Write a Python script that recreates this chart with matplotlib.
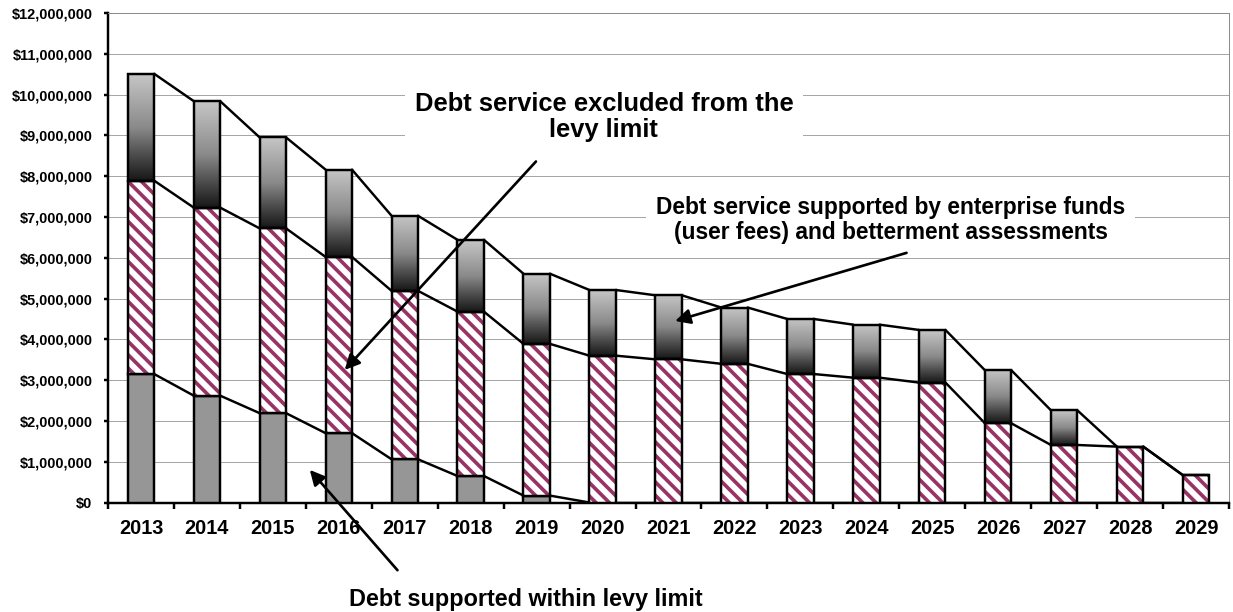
import numpy as np
import matplotlib
matplotlib.use("Agg")
import matplotlib.pyplot as plt
from matplotlib.ticker import MultipleLocator, FuncFormatter
from matplotlib.colors import LinearSegmentedColormap

# ---- data (dollars) ----
years = [str(y) for y in range(2013, 2030)]
within_levy = [3150000, 2620000, 2190000, 1700000, 1060000, 650000, 170000,
               0, 0, 0, 0, 0, 0, 0, 0, 0, 0]
excluded = [4740000, 4610000, 4530000, 4320000, 4130000, 4030000, 3720000,
            3600000, 3510000, 3400000, 3150000, 3060000, 2940000, 1940000,
            1410000, 1370000, 670000]
enterprise = [2620000, 2610000, 2230000, 2140000, 1840000, 1760000, 1720000,
              1610000, 1570000, 1380000, 1350000, 1300000, 1290000, 1300000,
              850000, 0, 0]

DPI = 80
W, H = 1233, 612
plt.rcParams["font.family"] = ["Liberation Sans", "DejaVu Sans"]
plt.rcParams["font.weight"] = "bold"
plt.rcParams["hatch.linewidth"] = 3.3

fig = plt.figure(figsize=(W / DPI, H / DPI), dpi=DPI)
ax = fig.add_axes([108 / W, 1 - 502.5 / H, (1229 - 108) / W, (502.5 - 13) / H])

x = np.arange(len(years))
width = 0.40
lw = 2.2
lvl1 = np.array(within_levy, dtype=float)
lvl2 = lvl1 + np.array(excluded, dtype=float)
lvl3 = lvl2 + np.array(enterprise, dtype=float)

# bottom segment: solid gray
ax.bar(x, within_levy, width, color="#969696", edgecolor="black", lw=lw, zorder=3)

# middle segment: maroon diagonal stripes
ax.bar(x, excluded, width, bottom=lvl1, color="white", edgecolor="#993366",
       hatch="\\\\", lw=0, zorder=3)
ax.bar(x, excluded, width, bottom=lvl1, fill=False, edgecolor="black", lw=lw, zorder=4)

# top segment: vertical gray gradient, dark at the base
grad_cmap = LinearSegmentedColormap.from_list(
    "g", [(0.0, "#161616"), (0.25, "#4e4e4e"), (0.5, "#8a8a8a"), (1.0, "#c6c6c6")])
grad = np.linspace(0, 1, 256).reshape(-1, 1)
top_bars = ax.bar(x, enterprise, width, bottom=lvl2, fill=False, edgecolor="black",
                  lw=lw, zorder=4)
for bar in top_bars:
    if bar.get_height() > 0:
        x0 = bar.get_x()
        ax.imshow(grad, extent=(x0, x0 + bar.get_width(), bar.get_y(),
                                bar.get_y() + bar.get_height()),
                  origin="lower", aspect="auto", cmap=grad_cmap, zorder=3,
                  interpolation="bicubic")

# series lines joining the segment tops of neighbouring bars
for lvl in (lvl1, lvl2, lvl3):
    for i in range(len(x) - 1):
        ax.plot([x[i] + width / 2, x[i + 1] - width / 2], [lvl[i], lvl[i + 1]],
                color="black", lw=lw, zorder=5, solid_capstyle="round")

# axes
ax.set_xlim(-0.5, len(years) - 0.5)
ax.set_ylim(0, 12000000)
ax.yaxis.set_major_locator(MultipleLocator(1000000))
ax.yaxis.set_major_formatter(FuncFormatter(lambda v, p: "${:,.0f}".format(v)))
ax.set_xticks(np.arange(-0.5, len(years), 1.0))
ax.set_xticklabels([])
ax.set_xticks(x, minor=True)
ax.set_xticklabels(years, minor=True)
ax.tick_params(axis="x", which="major", length=5, width=lw, direction="out")
ax.tick_params(axis="x", which="minor", length=0, pad=15, labelsize=18)
ax.tick_params(axis="y", length=4, width=lw, direction="out", pad=10, labelsize=13)
ax.yaxis.grid(True, color="#a6a6a6", lw=0.9)
ax.set_axisbelow(True)
for s in ("left", "bottom"):
    ax.spines[s].set_linewidth(lw)
    ax.spines[s].set_color("black")
for s in ("top", "right"):
    ax.spines[s].set_linewidth(0.9)
    ax.spines[s].set_color("#8c8c8c")

# callouts
box = dict(facecolor="white", edgecolor="none", pad=9)
txt = dict(ha="center", va="center", fontweight="bold", linespacing=1.1, zorder=6)
ax.text(7.02, 9460000, "Debt service excluded from the\nlevy limit",
        fontsize=23, bbox=box, **txt)
ax.text(11.37, 6930000, "Debt service supported by enterprise funds\n"
        "(user fees) and betterment assessments", fontsize=20.5, bbox=box, **txt)
ax.text(5.84, -2380000, "Debt supported within levy limit", fontsize=21,
        clip_on=False, **txt)

arrow = dict(arrowstyle="-|>", color="black", lw=2.4, mutation_scale=28,
             shrinkA=0, shrinkB=0)
ax.annotate("", xy=(3.09, 3250000), xytext=(5.99, 8360000), arrowprops=arrow,
            zorder=7)
ax.annotate("", xy=(8.10, 4450000), xytext=(11.61, 6120000), arrowprops=arrow,
            zorder=7)
ax.annotate("", xy=(2.56, 800000), xytext=(3.89, -1660000), arrowprops=arrow,
            annotation_clip=False, zorder=7)

fig.savefig("out.png", dpi=DPI)
